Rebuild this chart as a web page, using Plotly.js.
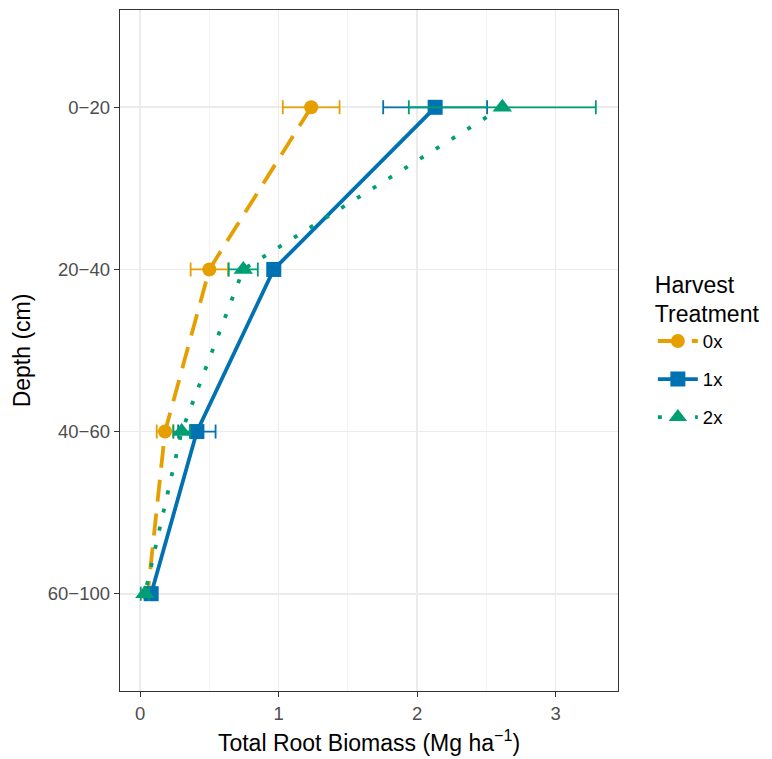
<!DOCTYPE html>
<html>
<head>
<meta charset="utf-8">
<script src="https://cdn.plot.ly/plotly-3.0.1.min.js"></script>
<style>html,body{margin:0;padding:0;background:#fff;}#chart{width:772px;height:759px;}</style>
</head>
<body>
<div id="chart"></div>
<script>
const depths = ["0−20", "20−40", "40−60", "60−100"];
const treatments = ["0x", "1x", "2x"];
const biomass0x = [1.235, 0.50, 0.18, 0.055];
const err0x     = [0.205, 0.135, 0.06, 0.02];
const biomass1x = [2.13, 0.965, 0.41, 0.08];
const err1x     = [0.375, 0.04, 0.135, 0.03];
const biomass2x = [2.615, 0.745, 0.30, 0.035];
const err2x     = [0.675, 0.105, 0.06, 0.03];
const xTicks = [0, 1, 2, 3];

const colors = ["#E69F00", "#0072B2", "#009E73"];
const symbols = ["circle", "square", "triangle-up"];
const sizes = [14, 15, 17];
const dashes = ["22px,12px", "solid", "4px,14.6px"];
const vals = [biomass0x, biomass1x, biomass2x];
const errs = [err0x, err1x, err2x];

const traces = treatments.map((t, i) => ({
  type: "scatter",
  mode: "lines+markers",
  name: t,
  legendgroup: t,
  x: vals[i],
  y: depths,
  line: {color: colors[i], width: 3.8, dash: dashes[i]},
  marker: {color: colors[i], symbol: symbols[i], size: sizes[i], line: {width: 0}},
  error_x: {type: "data", array: errs[i], visible: true, color: colors[i], thickness: 1.8, width: 7}
}));

const font = "Liberation Sans, Arial, Helvetica, sans-serif";
const layout = {
  width: 772, height: 759,
  margin: {l: 120, r: 154, t: 10, b: 68},
  paper_bgcolor: "#ffffff",
  plot_bgcolor: "#ffffff",
  font: {family: font, color: "#000000"},
  showlegend: true,
  xaxis: {
    range: [-0.145, 3.45],
    tickvals: xTicks,
    ticktext: xTicks.map(String),
    tickfont: {size: 18.5, color: "#4d4d4d", family: font},
    ticks: "outside", ticklen: 5, tickwidth: 1.1, tickcolor: "#333333",
    showgrid: true, gridcolor: "#ebebeb", gridwidth: 1.6,
    minor: {dtick: 0.5, tick0: 0, showgrid: true, gridcolor: "#f2f2f2", gridwidth: 0.9, ticklen: 0},
    zeroline: false,
    showline: true, linecolor: "#333333", linewidth: 1.3, mirror: true,
    automargin: false,
    title: {text: "Total Root Biomass (Mg ha<sup>−1</sup>)", font: {size: 23, color: "#000000", family: font}, standoff: 12}
  },
  yaxis: {
    type: "category",
    categoryorder: "array",
    categoryarray: depths,
    range: [3.6, -0.6],
    tickfont: {size: 18.5, color: "#4d4d4d", family: font},
    ticks: "outside", ticklen: 5, tickwidth: 1.1, tickcolor: "#333333",
    showgrid: true, gridcolor: "#ebebeb", gridwidth: 1.6,
    zeroline: false,
    showline: true, linecolor: "#333333", linewidth: 1.3, mirror: true,
    automargin: false,
    title: {text: "Depth (cm)", font: {size: 23, color: "#000000", family: font}, standoff: 10}
  },
  legend: {
    x: 1.07, xanchor: "left",
    y: 0.629, yanchor: "top",
    font: {size: 18.5, color: "#000000", family: font},
    title: {text: "Harvest<br>Treatment", font: {size: 23, color: "#000000", family: font}},
    tracegroupgap: 11,
    itemwidth: 40,
    bgcolor: "rgba(0,0,0,0)"
  }
};

Plotly.newPlot("chart", traces, layout, {displayModeBar: false, staticPlot: true});
</script>
</body>
</html>
